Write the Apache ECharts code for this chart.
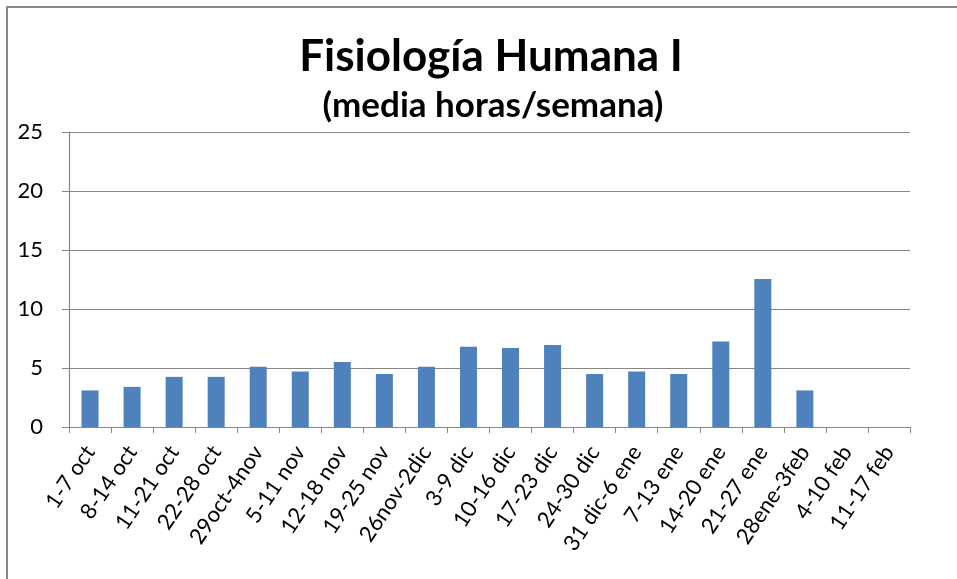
<!DOCTYPE html>
<html>
<head>
<meta charset="utf-8">
<script src="https://cdn.jsdelivr.net/npm/echarts@6/dist/echarts.min.js"></script>
<style>
html,body{margin:0;padding:0;background:#fff;}
#c{width:957px;height:579px;}
</style>
</head>
<body>
<div id="c"></div>
<script>
const categories = ["1-7 oct","8-14 oct","11-21 oct","22-28 oct","29oct-4nov","5-11 nov","12-18 nov","19-25 nov","26nov-2dic","3-9 dic","10-16 dic","17-23 dic","24-30 dic","31 dic-6 ene","7-13 ene","14-20 ene","21-27 ene","28ene-3feb","4-10 feb","11-17 feb"];
const values = [3.1, 3.4, 4.25, 4.25, 5.1, 4.7, 5.5, 4.5, 5.1, 6.8, 6.7, 6.95, 4.5, 4.7, 4.5, 7.25, 12.55, 3.1, 0, 0];
const titleText = "Fisiología Humana I";
const subtitleText = "(media horas/semana)";

const FONT = "Lato";
const chart = echarts.init(document.getElementById('c'), null, {renderer:'canvas'});
chart.setOption({
  animation:false,
  backgroundColor:'#fff',
  title:[
    {text:titleText, left:486, top:30, textAlign:'center',
     textStyle:{fontFamily:FONT, fontWeight:'bold', fontSize:44, color:'#000'}},
    {text:subtitleText, left:488, top:83, textAlign:'center',
     textStyle:{fontFamily:FONT, fontWeight:'bold', fontSize:35, color:'#000'}}
  ],
  graphic:[{type:'rect', shape:{x:7,y:7,width:1000,height:1000}, style:{fill:'none', stroke:'#888', lineWidth:2}, silent:true}],
  grid:{left:69, right:47, top:132, bottom:152, containLabel:false},
  xAxis:{
    type:'category', data:categories, boundaryGap:true,
    axisLine:{lineStyle:{color:'#868686', width:1.2}},
    axisTick:{show:true, alignWithLabel:false, length:6, lineStyle:{color:'#868686'}},
    axisLabel:{interval:0, rotate:56, margin:21, fontFamily:FONT, fontSize:22, color:'#000'}
  },
  yAxis:{
    type:'value', min:0, max:25, interval:5,
    axisLine:{show:true, lineStyle:{color:'#868686', width:1.2}},
    axisTick:{show:true, length:7, lineStyle:{color:'#868686'}},
    splitLine:{lineStyle:{color:'#868686', width:1.2}},
    axisLabel:{margin:26, fontFamily:FONT, fontSize:22, color:'#000'}
  },
  series:[{
    type:'bar', data:values, barWidth:17,
    itemStyle:{color:'#4F81BD'}
  }]
});
</script>
</body>
</html>
